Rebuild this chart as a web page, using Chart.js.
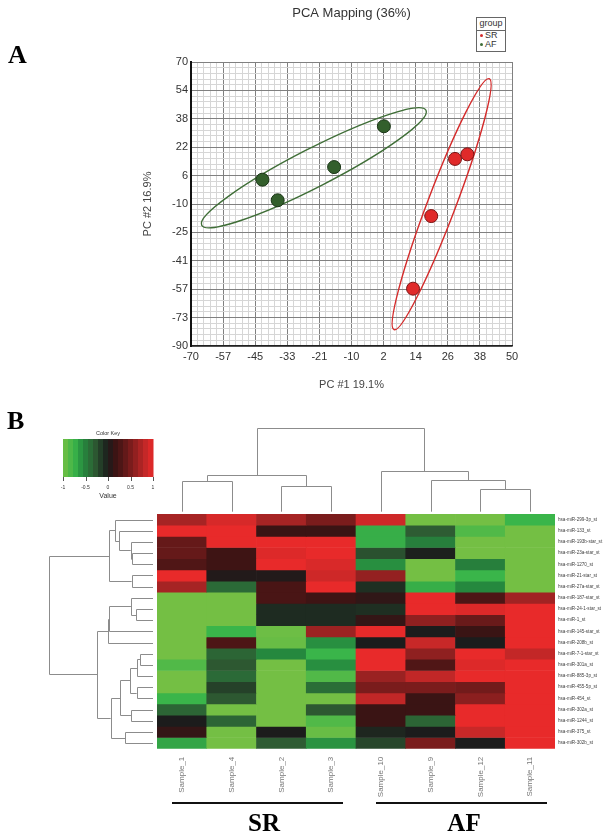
<!DOCTYPE html>
<html>
<head>
<meta charset="utf-8">
<script src="https://cdn.jsdelivr.net/npm/chart.js@4.4.1/dist/chart.umd.min.js"></script>
<style>
html,body{margin:0;padding:0;background:#fff;}
body{width:604px;height:840px;overflow:hidden;position:relative;font-family:Arial,"Liberation Sans",sans-serif;}
canvas{position:absolute;left:0;}
#c1{top:0;}
#c2{top:380px;}
.panel{position:absolute;font-family:"Liberation Serif","DejaVu Serif",serif;font-weight:bold;font-size:26px;line-height:26px;color:#000;}
#legend{position:absolute;left:476px;top:17px;width:28px;border:1px solid #666;font-size:9px;line-height:9px;color:#333;background:#fff;}
#legend .lh{border-bottom:1px solid #666;text-align:center;padding:1px 0 2px 0;}
#legend .li{padding-left:3px;}
#legend .dot{display:inline-block;width:3px;height:3px;border-radius:50%;margin-right:2px;vertical-align:middle;}
.bar{position:absolute;height:2px;background:#111;}
.grp{position:absolute;text-align:center;font-family:"Liberation Serif","DejaVu Serif",serif;font-weight:bold;font-size:25px;line-height:25px;color:#000;}
</style>
</head>
<body>
<canvas id="c1" width="604" height="400"></canvas>
<canvas id="c2" width="604" height="460"></canvas>
<div class="panel" style="left:8px;top:42px;">A</div>
<div class="panel" style="left:7px;top:408px;">B</div>
<div id="legend">
  <div class="lh">group</div>
  <div class="li"><span class="dot" style="background:#d42b2b"></span>SR</div>
  <div class="li" style="padding-bottom:2px"><span class="dot" style="background:#3f6e37"></span>AF</div>
</div>
<div class="bar" style="left:172px;top:802px;width:171px"></div>
<div class="bar" style="left:376px;top:802px;width:171px"></div>
<div class="grp" style="left:214px;width:100px;top:810px">SR</div>
<div class="grp" style="left:414px;width:100px;top:810px">AF</div>
<script>
// ---------------- PCA data ----------------
const xTickLabels = ['-70','-57','-45','-33','-21','-10','2','14','26','38','50'];
const yTickLabels = ['-90','-73','-57','-41','-25','-10','6','22','38','54','70'];
const groupNames = ['SR','AF'];
const srX = [28.7, 33.3, 19.8, 13.0];
const srY = [15.4, 18.0, -16.8, -57.7];
const afX = [-43.3, -37.6, -16.5, 2.1];
const afY = [3.7, -7.9, 10.8, 33.8];
// ellipse major-axis tips [x1,y1,x2,y2] and minor/major ratio
const srEllipse = [41.5, 60.6, 5.9, -80.8];
const afEllipse = [-66.0, -22.0, 17.85, 42.8];
const ellipseRatio = [0.105, 0.152];

// ---------------- Heatmap data ----------------
const samples = ['Sample_1','Sample_4','Sample_2','Sample_3','Sample_10','Sample_9','Sample_12','Sample_11'];
const mirnas = ['hsa-miR-299-3p_st','hsa-miR-133_st','hsa-miR-193b-star_st','hsa-miR-23a-star_st','hsa-miR-1270_st',
  'hsa-miR-21-star_st','hsa-miR-27a-star_st','hsa-miR-187-star_st','hsa-miR-24-1-star_st','hsa-miR-1_st',
  'hsa-miR-145-star_st','hsa-miR-208b_st','hsa-miR-7-1-star_st','hsa-miR-301a_st','hsa-miR-885-3p_st',
  'hsa-miR-455-5p_st','hsa-miR-454_st','hsa-miR-302a_st','hsa-miR-1244_st','hsa-miR-375_st','hsa-miR-302b_st'];
const heatValues = [
  [0.7, 0.92, 0.7, 0.5, 0.88, -1, -1, -0.75],
  [1, 1, 0.15, 0.15, -0.72, -0.3, -0.85, -1],
  [0.4, 1, 1, 1, -0.72, -0.5, -1, -1],
  [0.4, 0.18, 0.95, 1, -0.25, -0.02, -1, -1],
  [0.3, 0.18, 1, 0.93, -0.58, -1, -0.5, -1],
  [1, 0.03, 0.03, 0.88, 0.62, -1, -0.75, -1],
  [0.7, -0.38, 0.25, 1, -0.1, -0.72, -0.55, -1],
  [-1, -1, 0.25, 0.18, 0.1, 1, 0.28, 0.68],
  [-1, -1, -0.08, -0.08, -0.1, 1, 0.95, 1],
  [-1, -1, -0.08, -0.08, 0.12, 0.6, 0.42, 1],
  [-1, -0.75, -0.97, 0.66, 1, 0, 0.15, 1],
  [-1, 0.28, -0.95, -0.58, 0, 0.85, 0, 1],
  [-1, -0.35, -0.55, -0.75, 1, 0.6, 1, 0.83],
  [-0.85, -0.28, -1, -0.58, 1, 0.3, 0.95, 1],
  [-1, -0.38, -1, -0.85, 0.65, 0.82, 1, 1],
  [-1, -0.18, -1, -0.4, 0.5, 0.5, 0.46, 1],
  [-0.75, -0.28, -1, -1, 0.82, 0.15, 0.58, 1],
  [-0.35, -1, -1, -0.28, 0.15, 0.15, 1, 1],
  [0, -0.35, -1, -0.85, 0.15, -0.35, 1, 1],
  [0.12, -1, 0, -0.95, -0.05, 0, 0.85, 1],
  [-0.68, -1, -0.3, -0.6, -0.2, 0.5, 0, 1]
];
// dendrograms: leaf = index, node = [left, right, height]
const colTree = [[[0,1,3.67],[2,3,3.07],4.38],[4,[5,[6,7,2.71],3.79],4.86],10];
const rowTree = [
  [[0,[1,[2,[3,4,2.05],2.14],3.27],3.65],[5,6,2.05],4.2],
  [
    [[[7,[8,9,1.63],2.12],10,4.2],11,4.3],
    [[[[[12,13,1.25],14,1.54],[15,16,1.57],2.21],[17,18,2.12],3.17],[19,20,2.69],4.07],
    5.36
  ],
  10
];
const keyTicks = [-1, -0.5, 0, 0.5, 1];
const keyTickLabels = ['-1','-0.5','0','0.5','1'];

// ---------------- colour scale ----------------
const stops = [[-1,[116,191,68]],[-0.75,[58,181,74]],[-0.55,[37,136,62]],[-0.3,[46,92,51]],[-0.1,[31,47,34]],
  [0,[28,28,28]],[0.15,[58,20,20]],[0.3,[80,22,22]],[0.5,[122,28,28]],[0.65,[154,34,34]],[0.85,[200,40,40]],[1,[232,42,42]]];
function colorFor(v){
  v = Math.max(-1, Math.min(1, v));
  for (let i=0;i<stops.length-1;i++){
    const [a,ca]=stops[i],[b,cb]=stops[i+1];
    if (v>=a && v<=b){
      const t=(v-a)/(b-a);
      const c=ca.map((x,k)=>Math.round(x+(cb[k]-x)*t));
      return 'rgb('+c.join(',')+')';
    }
  }
  return 'rgb(232,42,42)';
}

// ---------------- PCA chart ----------------
function minorTicks(min, max, majors, sub){
  const out=[]; const n=(majors-1)*sub;
  for(let i=0;i<=n;i++) out.push({value: min + (max-min)*i/n});
  return out;
}
const ellipsePlugin = {
  id:'ellipses',
  beforeDatasetsDraw(chart){
    const {ctx, scales:{x,y}} = chart;
    [[srEllipse, ellipseRatio[0], '#d42b2b'], [afEllipse, ellipseRatio[1], '#3f6e37']].forEach(([e,r,col])=>{
      const x1=x.getPixelForValue(e[0]), y1=y.getPixelForValue(e[1]);
      const x2=x.getPixelForValue(e[2]), y2=y.getPixelForValue(e[3]);
      const cx=(x1+x2)/2, cy=(y1+y2)/2, a=Math.hypot(x2-x1,y2-y1)/2, ang=Math.atan2(y2-y1,x2-x1);
      ctx.save(); ctx.beginPath(); ctx.ellipse(cx,cy,a,a*r,ang,0,Math.PI*2);
      ctx.strokeStyle=col; ctx.lineWidth=1.4; ctx.stroke(); ctx.restore();
    });
  }
};
const SUB = 5;
new Chart(document.getElementById('c1'), {
  type:'scatter',
  data:{datasets:[
    {label:groupNames[0], data:srX.map((v,i)=>({x:v,y:srY[i]})), backgroundColor:'#e02a2a', borderColor:'#7a1515', borderWidth:1, pointRadius:6.5},
    {label:groupNames[1], data:afX.map((v,i)=>({x:v,y:afY[i]})), backgroundColor:'#335f2c', borderColor:'#1a3516', borderWidth:1, pointRadius:6.5}
  ]},
  options:{
    responsive:false, animation:false,
    layout:{padding:{left:141, right:92, top:0, bottom:0}},
    plugins:{
      legend:{display:false}, tooltip:{enabled:false},
      title:{display:true, fullSize:false, text:'PCA Mapping (36%)', color:'#333', font:{size:13, weight:'normal', family:'Arial'}, padding:{top:6, bottom:40.4}}
    },
    scales:{
      x:{type:'linear', min:-70, max:50,
        afterBuildTicks(s){ s.ticks = minorTicks(-70,50,xTickLabels.length,SUB); },
        ticks:{autoSkip:false, maxRotation:0, padding:4, color:'#333', font:{size:11, family:'Arial'},
          callback:(v,i)=> i%SUB===0 ? xTickLabels[i/SUB] : ''},
        grid:{drawTicks:false, color:c=> c.index%SUB===0 ? '#808080' : '#d6d6d6', lineWidth:1},
        border:{color:'#222', width:1.5},
        title:{display:true, text:'PC #1 19.1%', color:'#444', font:{size:11, family:'Arial'}, padding:{top:0, bottom:8.4}},
        afterFit(s){ s.height = 54; }
      },
      y:{type:'linear', min:-90, max:70,
        afterBuildTicks(s){ s.ticks = minorTicks(-90,70,yTickLabels.length,SUB); },
        ticks:{autoSkip:false, padding:3, color:'#333', font:{size:11, family:'Arial'},
          callback:(v,i)=> i%SUB===0 ? yTickLabels[i/SUB] : ''},
        grid:{drawTicks:false, color:c=> c.index%SUB===0 ? '#808080' : '#d6d6d6', lineWidth:1},
        border:{color:'#111', width:2},
        title:{display:true, text:'PC #2 16.9%', color:'#444', font:{size:11, family:'Arial'}, padding:{top:0, bottom:0}},
        afterFit(s){ s.width = 50; }
      }
    }
  },
  plugins:[ellipsePlugin]
});

// ---------------- Heatmap chart ----------------
function drawTree(ctx, node, leafPos, hToPix, vertical){
  if (typeof node === 'number') return [leafPos(node), hToPix(0)];
  const A = drawTree(ctx, node[0], leafPos, hToPix, vertical);
  const B = drawTree(ctx, node[1], leafPos, hToPix, vertical);
  const hp = hToPix(node[2]);
  const r = v => Math.round(v)+0.5;
  ctx.beginPath();
  if (vertical){
    ctx.moveTo(r(A[0]),A[1]); ctx.lineTo(r(A[0]),r(hp)); ctx.lineTo(r(B[0]),r(hp)); ctx.lineTo(r(B[0]),B[1]);
  } else {
    ctx.moveTo(A[1],r(A[0])); ctx.lineTo(r(hp),r(A[0])); ctx.lineTo(r(hp),r(B[0])); ctx.lineTo(B[1],r(B[0]));
  }
  ctx.stroke();
  return [(A[0]+B[0])/2, hp];
}
const heatDecor = {
  id:'heatDecor',
  afterDraw(chart){
    const {ctx, chartArea, scales:{x,y}} = chart;
    ctx.save();
    ctx.strokeStyle='#8c8c8c'; ctx.lineWidth=1;
    // column dendrogram
    const colBase = chartArea.top - 2.3;
    drawTree(ctx, colTree, i=>x.getPixelForValue(i), h=>colBase - h*8.37, true);
    // row dendrogram
    const rowBase = chartArea.left - 4;
    drawTree(ctx, rowTree, i=>y.getPixelForValue(i+0.5), h=>rowBase - h*10.4, false);
    // colour key
    const kx0=63, kx1=153, ky0=59, ky1=97, n=18;
    for(let i=0;i<n;i++){
      const v=-1+(i+0.5)*2/n;
      ctx.fillStyle=colorFor(v);
      const a=kx0+(kx1-kx0)*i/n, b=kx0+(kx1-kx0)*(i+1)/n;
      ctx.fillRect(a,ky0,b-a+0.5,ky1-ky0);
    }
    ctx.strokeStyle='#555';
    ctx.fillStyle='#333';
    ctx.textAlign='center'; ctx.textBaseline='middle';
    ctx.font='5px Arial';
    keyTicks.forEach((t,i)=>{
      const px = kx0+(kx1-kx0)*(t+1)/2;
      ctx.beginPath(); ctx.moveTo(Math.round(px)+0.5,ky1); ctx.lineTo(Math.round(px)+0.5,ky1+4); ctx.stroke();
      ctx.fillText(keyTickLabels[i], px, ky1+11);
    });
    ctx.font='5.5px Arial';
    ctx.fillText('Color Key', (kx0+kx1)/2, 53);
    ctx.font='7px Arial';
    ctx.fillText('Value', (kx0+kx1)/2, 116);
    ctx.restore();
  }
};
new Chart(document.getElementById('c2'), {
  type:'bar',
  data:{
    labels:samples,
    datasets: mirnas.map((m,r)=>({
      label:m,
      data: samples.map(()=>[r, r+1]),
      backgroundColor: heatValues[r].map(colorFor),
      borderWidth:0, grouped:false, barPercentage:1, categoryPercentage:1
    }))
  },
  options:{
    responsive:false, animation:false,
    layout:{padding:{left:157, top:134, right:0, bottom:0}},
    plugins:{legend:{display:false}, tooltip:{enabled:false}},
    scales:{
      x:{type:'category', grid:{display:false, drawTicks:false}, border:{display:false},
        ticks:{minRotation:90, maxRotation:90, autoSkip:false, padding:8, color:'#777', font:{size:8, family:'Arial'}},
        afterFit(s){ s.height = 91.3; }
      },
      y:{type:'linear', position:'right', min:0, max:21, reverse:true,
        grid:{display:false, drawTicks:false}, border:{display:false},
        afterBuildTicks(s){ s.ticks = mirnas.map((m,i)=>({value:i+0.5})); },
        ticks:{autoSkip:false, padding:3, color:'#444', font:{size:4.6, family:'Arial'}, callback:(v,i)=>mirnas[i]},
        afterFit(s){ s.width = 49; }
      }
    }
  },
  plugins:[heatDecor]
});
</script>
</body>
</html>
